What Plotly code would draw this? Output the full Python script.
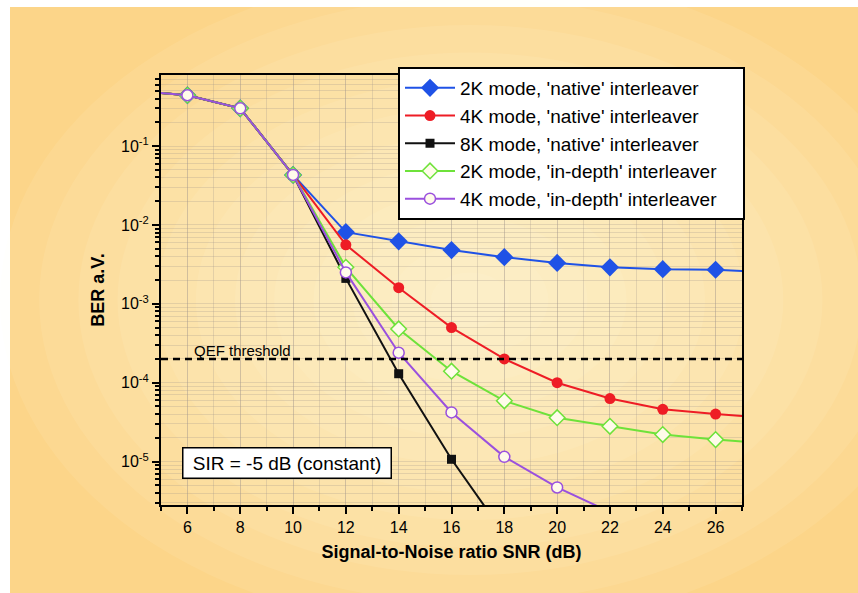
import plotly.graph_objects as go

# ---------------- data ----------------
snr = [4, 6, 8, 10, 12, 14, 16, 18, 20, 22, 24, 26, 28]

ber_2k_native = [0.5, 0.44, 0.30, 0.043, 0.0081, 0.0062, 0.0048, 0.0039, 0.0033, 0.0029, 0.00275, 0.0027, 0.0025]
ber_4k_native = [0.5, 0.44, 0.30, 0.043, 0.0056, 0.0016, 0.0005, 0.0002, 0.0001, 6.3e-5, 4.6e-5, 4.0e-5, 3.6e-5]
snr_8k = [4, 6, 8, 10, 12, 14, 16, 18]
ber_8k_native = [0.5, 0.44, 0.30, 0.043, 0.0021, 0.00013, 1.07e-5, 1.2e-6]
ber_2k_indepth = [0.5, 0.44, 0.30, 0.043, 0.0029, 0.00048, 0.00014, 5.9e-5, 3.6e-5, 2.8e-5, 2.2e-5, 1.9e-5, 1.7e-5]
snr_4k_id = [4, 6, 8, 10, 12, 14, 16, 18, 20, 22]
ber_4k_indepth = [0.5, 0.44, 0.30, 0.043, 0.0025, 0.00024, 4.2e-5, 1.15e-5, 4.7e-6, 2.3e-6]

qef_threshold = 2e-4
x_range = [5, 27]
y_range_log = [-5.55, -0.1]

y_tickvals = [1e-5, 1e-4, 1e-3, 1e-2, 1e-1]
y_ticktext = ["10<sup>-5</sup>", "10<sup>-4</sup>", "10<sup>-3</sup>", "10<sup>-2</sup>", "10<sup>-1</sup>"]
y_minor = [m * 10.0 ** e for e in range(-7, 1) for m in range(2, 10)]
x_tickvals = [6, 8, 10, 12, 14, 16, 18, 20, 22, 24, 26]

legend_names = [
    "2K mode, 'native' interleaver",
    "4K mode, 'native' interleaver",
    "8K mode, 'native' interleaver",
    "2K mode, 'in-depth' interleaver",
    "4K mode, 'in-depth' interleaver",
]

# ---------------- style ----------------
BLUE = "#1f52e6"
RED = "#ee1c25"
BLACK = "#111111"
GREEN = "#6ee23a"
PURPLE = "#9a50de"
FONT = "Liberation Sans, Arial, sans-serif"
PAD = "&nbsp;&nbsp;&nbsp;&nbsp;"

fig = go.Figure()

fig.add_trace(go.Scatter(
    x=snr, y=ber_2k_native, name=legend_names[0] + PAD, mode="lines+markers",
    line=dict(color=BLUE, width=2),
    marker=dict(symbol="diamond", size=14, color=BLUE, line=dict(width=0))))
fig.add_trace(go.Scatter(
    x=snr, y=ber_4k_native, name=legend_names[1] + PAD, mode="lines+markers",
    line=dict(color=RED, width=2),
    marker=dict(symbol="circle", size=11, color=RED, line=dict(width=0))))
fig.add_trace(go.Scatter(
    x=snr_8k, y=ber_8k_native, name=legend_names[2] + PAD, mode="lines+markers",
    line=dict(color=BLACK, width=2),
    marker=dict(symbol="square", size=9, color=BLACK, line=dict(width=0))))
fig.add_trace(go.Scatter(
    x=snr, y=ber_2k_indepth, name=legend_names[3] + PAD, mode="lines+markers",
    line=dict(color=GREEN, width=2),
    marker=dict(symbol="diamond", size=12, color="#fffbea", line=dict(color=GREEN, width=1.5))))
fig.add_trace(go.Scatter(
    x=snr_4k_id, y=ber_4k_indepth, name=legend_names[4] + PAD, mode="lines+markers",
    line=dict(color=PURPLE, width=2),
    marker=dict(symbol="circle", size=11, color="#fffbea", line=dict(color=PURPLE, width=1.5))))

# QEF threshold line
fig.add_trace(go.Scatter(
    x=x_range, y=[qef_threshold, qef_threshold], mode="lines",
    line=dict(color="black", width=2.5, dash="7px,5px"),
    showlegend=False, hoverinfo="skip"))

# ---------------- geometry (page coordinates, body margin removed) ----------------
W, H = 858, 593
L, T = 161, 75
PW, PH = 581, 430
R, B = W - L - PW, H - T - PH


def px2paper_x(px):
    return (px - L) / PW


def px2paper_y(py):
    return (T + PH - py) / PH


# white strips on top / left, orange card, soft radial light
shapes = [dict(type="rect", xref="paper", yref="paper", layer="below",
               x0=px2paper_x(10), x1=px2paper_x(W + 2),
               y0=px2paper_y(H + 2), y1=px2paper_y(7),
               fillcolor="#fcd589", line=dict(width=0))]
cx, cy = 470, 300
n = 12
for i in range(n):
    f = 1 - i / n
    rx, ry = 470 * f, 330 * f
    shapes.append(dict(type="circle", xref="paper", yref="paper", layer="below",
                       x0=px2paper_x(cx - rx), x1=px2paper_x(cx + rx),
                       y0=px2paper_y(cy + ry), y1=px2paper_y(cy - ry),
                       fillcolor="rgba(255,250,238,0.09)", line=dict(width=0)))

GRID = "rgba(160,150,140,0.28)"

fig.update_layout(
    width=W, height=H,
    margin=dict(l=L, r=R, t=T, b=B),
    paper_bgcolor="white",
    plot_bgcolor="rgba(255,255,255,0.12)",
    font=dict(family=FONT, color="black", size=16),
    shapes=shapes,
    showlegend=True,
    legend=dict(
        x=px2paper_x(398), y=px2paper_y(67), xanchor="left", yanchor="top",
        bgcolor="white", bordercolor="black", borderwidth=2,
        font=dict(family=FONT, size=19, color="black"),
        itemwidth=50,
    ),
    annotations=[
        dict(text="QEF threshold", xref="paper", yref="paper",
             x=px2paper_x(192), y=px2paper_y(350), xanchor="left", yanchor="middle",
             showarrow=False, font=dict(family=FONT, size=15, color="black")),
        dict(text="&nbsp;SIR = -5 dB (constant)&nbsp;", xref="paper", yref="paper",
             x=px2paper_x(287), y=px2paper_y(463), xanchor="center", yanchor="middle",
             showarrow=False, bgcolor="white", bordercolor="black", borderwidth=1.5,
             borderpad=4, font=dict(family=FONT, size=19, color="black")),
    ],
)

fig.update_xaxes(
    range=x_range, tickmode="array", tickvals=x_tickvals,
    ticks="outside", ticklen=7, tickwidth=2, tickcolor="black",
    showline=True, linewidth=2, linecolor="black", mirror=True,
    showgrid=True, gridcolor=GRID, gridwidth=1,
    minor=dict(dtick=1, ticks="outside", ticklen=4, tickwidth=1.5, tickcolor="black",
               showgrid=True, gridcolor=GRID, gridwidth=1),
    zeroline=False,
    tickfont=dict(family=FONT, size=16),
    title=dict(text="<b>Signal-to-Noise ratio SNR (dB)</b>", standoff=10,
               font=dict(family=FONT, size=18)),
)
fig.update_yaxes(
    type="log", range=y_range_log, tickmode="array", tickvals=y_tickvals, ticktext=y_ticktext,
    ticks="outside", ticklen=7, tickwidth=2, tickcolor="black",
    showline=True, linewidth=2, linecolor="black", mirror=True,
    showgrid=True, gridcolor=GRID, gridwidth=1,
    minor=dict(tickmode="array", tickvals=y_minor, ticks="outside", ticklen=4,
               tickwidth=1.5, tickcolor="black",
               showgrid=True, gridcolor=GRID, gridwidth=1),
    zeroline=False,
    tickfont=dict(family=FONT, size=16),
    title=dict(text="<b>BER a.V.</b>", standoff=12, font=dict(family=FONT, size=18)),
)

fig.write_html(
    "out.html",
    config={"displayModeBar": False},
    post_script="document.body.style.margin='0';document.body.style.overflow='hidden';",
)
